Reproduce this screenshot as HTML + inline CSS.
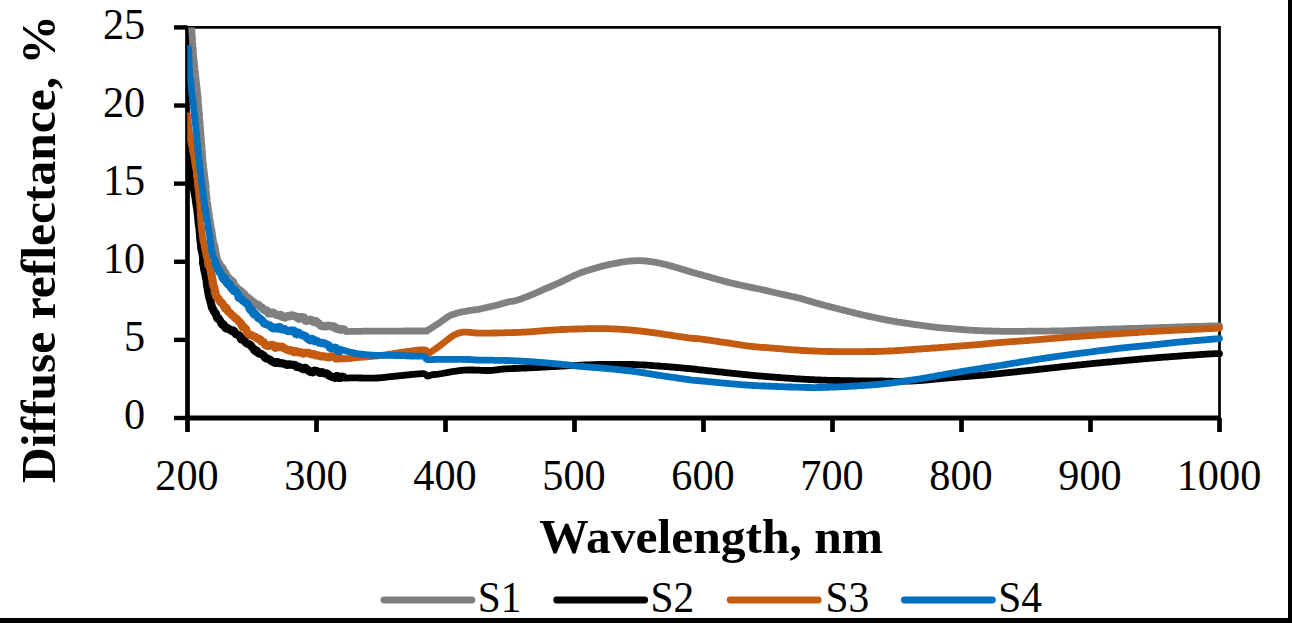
<!DOCTYPE html>
<html><head><meta charset="utf-8"><style>
html,body{margin:0;padding:0;background:#fff;width:1292px;height:623px;overflow:hidden}
svg{display:block}
.t{font-family:"Liberation Serif",serif;fill:#000}
.b{font-family:"Liberation Serif",serif;font-size:49.5px;font-weight:bold;fill:#000}
</style></head><body>
<svg width="1292" height="623" viewBox="0 0 1292 623">
<rect x="0" y="0" width="1292" height="623" fill="#fff"/>
<defs><clipPath id="pc"><rect x="187.3" y="27.4" width="1060" height="400"/></clipPath></defs>
<path d="M187.5,27.4 H1219.5 V418.0" fill="none" stroke="#000" stroke-width="2.7"/>
<line x1="187.5" y1="25.9" x2="187.5" y2="418.0" stroke="#000" stroke-width="4.7"/>
<line x1="185.15" y1="418.0" x2="1219.5" y2="418.0" stroke="#000" stroke-width="4.8"/>
<line x1="174" y1="418.00" x2="187.5" y2="418.00" stroke="#000" stroke-width="4.4"/>
<line x1="174" y1="339.88" x2="187.5" y2="339.88" stroke="#000" stroke-width="4.4"/>
<line x1="174" y1="261.76" x2="187.5" y2="261.76" stroke="#000" stroke-width="4.4"/>
<line x1="174" y1="183.64" x2="187.5" y2="183.64" stroke="#000" stroke-width="4.4"/>
<line x1="174" y1="105.52" x2="187.5" y2="105.52" stroke="#000" stroke-width="4.4"/>
<line x1="174" y1="27.40" x2="187.5" y2="27.40" stroke="#000" stroke-width="4.4"/>
<line x1="187.50" y1="418.0" x2="187.50" y2="432" stroke="#000" stroke-width="4.7"/>
<line x1="316.50" y1="418.0" x2="316.50" y2="432" stroke="#000" stroke-width="4.7"/>
<line x1="445.50" y1="418.0" x2="445.50" y2="432" stroke="#000" stroke-width="4.7"/>
<line x1="574.50" y1="418.0" x2="574.50" y2="432" stroke="#000" stroke-width="4.7"/>
<line x1="703.50" y1="418.0" x2="703.50" y2="432" stroke="#000" stroke-width="4.7"/>
<line x1="832.50" y1="418.0" x2="832.50" y2="432" stroke="#000" stroke-width="4.7"/>
<line x1="961.50" y1="418.0" x2="961.50" y2="432" stroke="#000" stroke-width="4.7"/>
<line x1="1090.50" y1="418.0" x2="1090.50" y2="432" stroke="#000" stroke-width="4.7"/>
<line x1="1219.50" y1="418.0" x2="1219.50" y2="432" stroke="#000" stroke-width="4.7"/>
<g clip-path="url(#pc)" fill="none" stroke-width="6.8" stroke-linejoin="round" stroke-linecap="round">
<polyline stroke="#808080" points="191.6,15.0 191.6,15.4 191.6,15.9 191.5,16.5 191.5,17.4 191.5,19.8 191.5,21.3 191.5,21.0 191.5,22.4 191.5,25.4 191.6,26.6 191.6,26.9 191.7,27.6 191.8,29.7 191.8,31.1 191.9,31.1 192.0,32.0 192.0,34.2 192.1,35.6 192.2,35.9 192.3,37.0 192.4,38.4 192.5,39.7 192.6,41.9 192.7,43.3 192.8,45.7 192.9,47.1 193.0,46.5 193.1,47.6 193.2,49.1 193.3,50.4 193.4,52.7 193.5,54.1 193.6,56.2 193.8,57.6 193.9,57.9 194.0,59.1 194.1,59.9 194.2,61.1 194.4,64.1 194.5,65.5 194.6,64.2 194.8,65.3 194.9,68.7 195.0,70.2 195.1,69.9 195.2,70.9 195.4,71.7 195.5,72.8 195.6,73.9 195.7,75.3 195.9,77.2 196.0,78.5 196.2,81.2 196.3,82.5 196.5,82.1 196.6,83.0 196.7,85.2 196.9,86.6 197.0,87.9 197.2,89.1 197.3,89.7 197.4,90.9 197.6,92.7 197.7,94.1 197.8,94.1 197.9,94.9 198.0,96.0 198.1,97.2 198.2,98.8 198.3,100.0 198.4,102.5 198.5,103.9 198.6,104.5 198.7,105.7 198.8,106.6 198.9,107.8 199.0,109.8 199.1,111.1 199.2,112.0 199.3,113.2 199.4,114.0 199.5,115.1 199.6,117.5 199.7,118.9 199.8,119.9 199.9,121.2 200.0,121.2 200.1,122.3 200.2,124.4 200.3,125.7 200.4,126.8 200.5,128.0 200.5,130.1 200.6,131.4 200.7,132.2 200.8,133.4 200.9,133.4 201.0,134.5 201.1,137.6 201.2,139.1 201.3,138.0 201.4,139.0 201.5,140.9 201.6,142.2 201.7,144.3 201.8,145.6 201.9,145.3 202.0,146.3 202.1,148.4 202.2,149.7 202.2,149.8 202.4,150.9 202.5,153.8 202.6,155.2 202.7,156.7 202.8,157.9 202.9,158.6 203.0,159.8 203.1,161.7 203.2,163.0 203.3,162.8 203.4,163.8 203.6,166.1 203.7,167.5 203.8,168.5 204.0,169.7 204.1,170.9 204.3,172.1 204.4,173.0 204.6,174.2 204.7,176.4 204.9,177.7 205.0,179.2 205.2,180.5 205.3,180.4 205.4,181.5 205.6,183.2 205.7,184.5 205.8,184.1 205.9,185.1 206.1,188.0 206.2,189.5 206.3,190.5 206.4,191.7 206.5,193.8 206.6,195.2 206.7,196.0 206.8,197.1 206.9,196.9 207.0,198.0 207.1,199.5 207.2,200.8 207.4,202.8 207.5,204.2 207.7,203.7 207.8,204.7 208.0,207.0 208.2,208.4 208.3,208.8 208.5,209.9 208.7,210.9 208.9,212.1 209.1,213.2 209.3,214.4 209.5,217.6 209.7,219.0 209.9,218.6 210.1,219.6 210.3,221.1 210.5,222.4 210.7,224.0 210.9,225.2 211.1,227.6 211.3,229.0 211.5,228.2 211.7,229.1 212.0,231.5 212.2,232.9 212.5,234.5 212.8,235.9 213.0,238.2 213.3,239.6 213.5,240.7 213.8,242.0 214.1,243.4 214.3,244.6 214.5,244.3 214.8,245.2 215.0,246.7 215.2,247.8 215.4,248.7 215.6,249.6 215.9,252.9 216.2,254.7 216.5,253.7 216.7,254.8 216.9,255.9 217.1,256.8 217.3,257.8 217.5,258.8 218.0,260.4 218.4,262.2 218.9,263.3 219.5,264.7 220.1,265.9 220.6,266.1 221.4,267.1 222.4,267.8 223.0,269.6 223.7,271.0 224.6,271.9 225.4,273.1 226.3,274.9 227.2,277.2 228.0,277.5 228.8,278.1 229.5,278.9 230.6,280.6 231.5,281.8 232.3,281.1 233.1,281.8 234.0,284.9 234.9,286.2 235.8,286.8 236.8,287.7 237.6,288.8 238.4,289.6 239.3,290.4 240.1,290.3 241.2,291.4 241.9,292.2 242.6,293.1 243.5,293.2 244.4,294.2 245.3,296.7 246.1,297.7 247.0,297.1 248.0,297.8 249.0,298.6 250.0,299.4 251.0,300.5 251.9,301.3 252.8,301.8 253.9,302.5 254.8,303.5 255.8,304.3 257.1,304.3 258.0,304.7 259.0,305.4 260.1,306.6 261.2,307.4 262.4,308.1 263.5,309.6 264.6,310.3 265.7,310.0 267.0,310.5 268.4,313.5 269.7,313.2 270.9,313.5 272.1,312.6 273.2,312.7 274.7,313.6 275.9,314.5 277.1,315.0 278.5,315.4 279.6,314.9 280.8,314.8 282.0,316.7 283.4,317.0 285.0,317.5 286.1,316.4 287.2,316.1 288.4,316.2 289.7,316.3 291.0,315.3 292.4,315.4 293.8,315.7 295.2,316.6 296.6,316.6 297.8,318.3 299.0,318.8 300.2,317.2 301.4,317.3 302.7,317.2 304.0,317.5 305.2,320.5 306.5,321.0 307.8,320.1 309.1,320.4 310.3,319.7 311.5,320.0 312.8,321.5 314.0,322.0 315.2,321.0 316.5,321.3 317.7,323.2 319.0,323.7 320.2,325.4 321.4,325.9 322.7,326.0 323.9,326.3 325.2,326.2 326.5,326.4 327.8,325.5 329.1,325.7 330.4,326.3 331.7,326.6 333.0,326.3 334.3,326.5 335.4,328.3 336.6,328.8 337.6,328.5 339.1,328.7 340.4,329.8 341.7,329.0 342.8,329.4 343.9,329.6 344.8,329.9 345.7,330.7 346.3,331.3 346.4,331.6 349.5,331.4 350.2,331.3 351.0,331.3 351.8,331.3 352.7,331.3 353.7,331.3 354.7,331.3 355.7,331.3 356.8,331.3 358.0,331.3 359.2,331.3 360.4,331.3 361.7,331.3 362.9,331.2 364.3,331.2 365.6,331.2 367.0,331.2 368.4,331.2 369.8,331.2 371.2,331.2 372.7,331.1 374.1,331.1 375.6,331.1 377.1,331.1 378.5,331.1 380.0,331.1 381.1,331.1 382.2,331.1 383.4,331.1 384.6,331.1 385.8,331.1 387.1,331.1 388.4,331.1 389.8,331.1 391.2,331.1 392.5,331.1 393.9,331.1 395.4,331.1 396.8,331.1 398.2,331.1 399.7,331.1 401.1,331.1 402.5,331.1 403.9,331.0 405.3,331.0 406.7,331.0 408.1,331.0 409.4,331.0 410.7,331.0 412.0,331.0 413.3,331.0 414.5,331.0 415.6,331.0 416.8,331.0 417.8,331.0 418.8,331.0 419.8,331.0 420.7,331.0 421.5,331.0 422.3,331.0 423.0,331.0 427.0,331.0 426.0,330.8 427.2,330.4 428.5,329.8 429.3,329.4 430.2,328.8 431.7,327.9 432.5,327.4 433.4,326.8 434.4,326.1 435.4,325.4 436.6,324.7 437.7,323.9 438.9,323.2 440.0,322.4 441.0,321.7 442.0,320.9 443.1,320.2 444.2,319.4 445.3,318.6 446.3,317.8 447.4,317.1 448.5,316.4 449.6,315.8 450.8,315.2 452.0,314.7 453.2,314.3 454.5,313.9 455.7,313.5 456.9,313.1 458.1,312.8 459.3,312.5 460.5,312.2 461.7,311.9 462.9,311.7 464.1,311.5 465.3,311.3 466.5,311.1 467.7,310.9 468.9,310.7 470.1,310.5 471.3,310.3 472.5,310.2 473.7,310.0 474.9,309.9 476.1,309.7 477.3,309.5 478.5,309.3 479.7,309.1 480.9,308.8 482.1,308.5 483.4,308.2 484.6,308.0 485.8,307.7 487.0,307.4 488.2,307.1 489.4,306.8 490.6,306.6 491.8,306.3 493.0,306.0 494.2,305.8 495.4,305.5 496.6,305.2 497.8,304.9 499.0,304.6 500.1,304.3 501.3,303.9 502.4,303.6 503.6,303.2 504.8,302.9 506.1,302.6 507.4,302.2 508.5,301.9 509.6,301.7 510.7,301.5 511.9,301.3 513.0,301.1 514.3,300.9 515.6,300.6 517.0,300.2 518.4,299.8 520.0,299.3 520.9,299.0 521.9,298.6 522.9,298.2 523.9,297.8 525.0,297.4 526.1,297.0 527.2,296.5 528.4,296.1 529.5,295.6 530.7,295.1 531.9,294.6 533.1,294.1 534.2,293.6 535.4,293.1 536.6,292.6 537.7,292.1 538.9,291.6 540.0,291.1 541.1,290.6 542.2,290.2 543.3,289.7 544.4,289.2 545.6,288.7 546.7,288.2 547.8,287.7 548.9,287.3 550.0,286.8 551.1,286.3 552.2,285.8 553.3,285.3 554.4,284.8 555.6,284.3 556.7,283.8 557.8,283.3 558.9,282.8 560.0,282.3 561.1,281.8 562.2,281.3 563.3,280.8 564.4,280.2 565.6,279.7 566.7,279.2 567.8,278.6 568.9,278.1 570.0,277.5 571.1,277.0 572.2,276.5 573.3,276.0 574.4,275.5 575.6,275.0 576.7,274.5 577.8,274.0 578.9,273.5 580.0,273.1 581.2,272.6 582.4,272.2 583.6,271.8 584.8,271.4 586.0,270.9 587.2,270.5 588.5,270.2 589.7,269.8 590.9,269.4 592.1,269.1 593.3,268.7 594.4,268.4 595.6,268.0 596.7,267.7 597.9,267.4 598.9,267.1 600.0,266.8 601.3,266.4 602.6,266.1 603.9,265.8 605.1,265.5 606.3,265.2 607.5,264.9 608.6,264.7 609.7,264.4 610.9,264.2 612.0,264.0 613.2,263.7 614.3,263.5 615.5,263.3 616.7,263.1 617.9,262.9 619.1,262.6 620.3,262.4 621.5,262.2 622.7,262.0 623.9,261.8 625.1,261.7 626.3,261.5 627.5,261.3 628.6,261.2 629.8,261.1 631.0,261.0 632.3,260.9 633.5,260.8 634.8,260.8 636.0,260.7 637.2,260.7 638.5,260.7 639.7,260.7 640.9,260.7 642.2,260.8 643.4,260.8 644.7,260.9 646.0,261.0 647.2,261.1 648.4,261.3 649.6,261.4 650.9,261.6 652.1,261.8 653.4,262.0 654.6,262.2 655.8,262.4 657.1,262.7 658.3,262.9 659.6,263.2 660.8,263.4 662.0,263.7 663.2,264.0 664.4,264.2 665.6,264.5 666.8,264.8 668.0,265.1 669.1,265.5 670.3,265.8 671.5,266.1 672.7,266.4 673.9,266.8 675.0,267.1 676.2,267.5 677.4,267.8 678.6,268.1 679.9,268.5 681.1,268.9 682.4,269.3 683.7,269.7 685.0,270.1 686.3,270.5 687.5,270.9 688.7,271.2 689.9,271.6 691.0,271.9 692.0,272.2 692.9,272.5 694.3,272.9 695.0,273.1 695.5,273.2 696.2,273.4 697.6,273.7 700.0,274.4 700.8,274.6 701.6,274.9 702.5,275.1 703.5,275.4 704.5,275.7 705.6,276.0 706.7,276.3 707.9,276.6 709.1,277.0 710.4,277.3 711.6,277.7 712.9,278.1 714.2,278.4 715.6,278.8 716.9,279.2 718.3,279.6 719.6,280.0 721.0,280.3 722.3,280.7 723.6,281.1 725.0,281.4 726.3,281.7 727.5,282.1 728.8,282.4 730.0,282.7 731.2,283.0 732.4,283.3 733.7,283.6 734.9,283.9 736.2,284.1 737.4,284.4 738.7,284.7 739.9,285.0 741.2,285.3 742.5,285.5 743.7,285.8 745.0,286.1 746.2,286.3 747.5,286.6 748.7,286.8 749.9,287.1 751.1,287.3 752.3,287.6 753.5,287.8 754.6,288.1 755.8,288.3 756.9,288.5 757.9,288.7 759.0,289.0 760.0,289.2 761.4,289.5 762.8,289.8 764.1,290.1 765.4,290.4 766.7,290.7 767.9,291.0 769.0,291.2 770.2,291.5 771.3,291.8 772.4,292.0 773.4,292.3 774.5,292.5 775.6,292.8 776.7,293.0 777.8,293.3 778.9,293.5 780.0,293.8 781.3,294.1 782.6,294.4 783.8,294.6 785.1,294.9 786.3,295.2 787.5,295.5 788.8,295.7 790.0,296.0 791.2,296.3 792.5,296.5 793.7,296.8 794.9,297.1 796.1,297.4 797.4,297.7 798.6,298.0 799.8,298.3 800.9,298.6 802.1,298.9 803.2,299.3 804.4,299.6 805.5,299.9 806.7,300.3 807.9,300.6 809.0,300.9 810.2,301.3 811.3,301.6 812.5,302.0 813.6,302.3 814.8,302.6 815.9,303.0 817.1,303.3 818.3,303.6 819.4,303.9 820.6,304.2 821.7,304.6 822.9,304.9 824.1,305.2 825.2,305.5 826.4,305.8 827.6,306.1 828.7,306.4 829.9,306.7 831.0,307.0 832.2,307.3 833.4,307.6 834.5,307.9 835.7,308.2 836.9,308.5 838.2,308.8 839.4,309.2 840.7,309.5 841.9,309.8 843.1,310.1 844.4,310.4 845.6,310.7 846.9,311.1 848.1,311.4 849.3,311.7 850.6,312.0 851.8,312.3 853.1,312.6 854.3,312.9 855.5,313.2 856.8,313.5 858.0,313.8 859.3,314.1 860.5,314.4 861.7,314.7 863.0,315.0 864.2,315.3 865.5,315.5 866.7,315.8 867.9,316.1 869.2,316.4 870.4,316.7 871.7,316.9 872.9,317.2 874.2,317.5 875.4,317.7 876.8,318.0 878.1,318.3 879.4,318.6 880.8,318.8 882.1,319.1 883.4,319.4 884.7,319.6 886.0,319.9 887.2,320.1 888.3,320.3 889.4,320.5 890.5,320.7 891.4,320.9 893.1,321.2 894.3,321.4 895.3,321.6 896.1,321.7 897.1,321.9 898.3,322.1 900.0,322.3 900.9,322.4 902.0,322.6 903.1,322.8 904.2,322.9 905.5,323.1 906.7,323.3 908.0,323.5 909.3,323.7 910.7,323.9 912.0,324.1 913.4,324.3 914.7,324.5 916.0,324.6 917.3,324.8 918.6,325.0 919.8,325.2 921.1,325.3 922.3,325.5 923.5,325.7 924.8,325.9 926.0,326.0 927.2,326.2 928.5,326.4 929.7,326.5 930.9,326.7 932.2,326.8 933.4,327.0 934.6,327.1 935.9,327.3 937.1,327.4 938.3,327.5 939.6,327.7 940.8,327.8 942.1,327.9 943.3,328.0 944.5,328.1 945.8,328.2 947.0,328.3 948.3,328.4 949.5,328.5 950.7,328.6 952.0,328.7 953.2,328.8 954.5,328.9 955.7,329.0 956.9,329.1 958.2,329.2 959.4,329.3 960.7,329.4 961.9,329.5 963.1,329.6 964.4,329.7 965.6,329.8 966.9,329.9 968.1,330.0 969.3,330.1 970.6,330.2 971.8,330.2 973.1,330.3 974.3,330.4 975.5,330.5 976.8,330.5 978.0,330.6 979.3,330.6 980.5,330.7 981.7,330.7 983.0,330.8 984.2,330.8 985.5,330.9 986.7,330.9 987.9,331.0 989.2,331.0 990.4,331.0 991.7,331.1 992.9,331.1 994.1,331.1 995.4,331.2 996.6,331.2 997.8,331.2 999.1,331.2 1000.3,331.3 1001.5,331.3 1002.8,331.3 1004.0,331.3 1005.2,331.4 1006.5,331.4 1007.7,331.4 1008.9,331.4 1010.2,331.4 1011.4,331.4 1012.6,331.4 1013.8,331.4 1014.9,331.4 1016.1,331.4 1017.2,331.4 1018.3,331.4 1019.4,331.3 1020.6,331.3 1021.7,331.3 1023.0,331.3 1024.2,331.3 1025.5,331.3 1026.9,331.2 1028.4,331.2 1030.0,331.2 1031.0,331.2 1032.0,331.2 1033.1,331.2 1034.2,331.2 1035.3,331.2 1036.4,331.2 1037.6,331.1 1038.8,331.1 1040.0,331.1 1041.2,331.1 1042.4,331.1 1043.7,331.1 1044.9,331.1 1046.2,331.1 1047.5,331.1 1048.7,331.1 1050.0,331.1 1051.3,331.0 1052.6,331.0 1053.8,331.0 1055.1,331.0 1056.3,331.0 1057.6,331.0 1058.8,330.9 1060.0,330.9 1061.2,330.9 1062.4,330.8 1063.6,330.8 1064.8,330.8 1066.0,330.7 1067.2,330.7 1068.4,330.6 1069.6,330.6 1070.8,330.6 1072.0,330.5 1073.2,330.5 1074.4,330.4 1075.6,330.4 1076.8,330.3 1078.0,330.3 1079.2,330.2 1080.4,330.2 1081.6,330.1 1082.8,330.1 1084.0,330.0 1085.2,330.0 1086.4,329.9 1087.6,329.9 1088.8,329.8 1090.0,329.8 1091.2,329.8 1092.4,329.7 1093.6,329.7 1094.8,329.6 1096.0,329.6 1097.2,329.6 1098.4,329.5 1099.6,329.5 1100.8,329.4 1102.0,329.4 1103.2,329.3 1104.4,329.3 1105.6,329.3 1106.8,329.2 1108.0,329.2 1109.2,329.1 1110.4,329.1 1111.6,329.1 1112.8,329.0 1114.0,329.0 1115.2,329.0 1116.4,328.9 1117.6,328.9 1118.8,328.8 1120.0,328.8 1121.2,328.8 1122.4,328.7 1123.6,328.7 1124.8,328.7 1126.0,328.6 1127.2,328.6 1128.4,328.5 1129.6,328.5 1130.8,328.5 1132.0,328.4 1133.2,328.4 1134.4,328.4 1135.6,328.3 1136.8,328.3 1138.0,328.3 1139.2,328.2 1140.4,328.2 1141.6,328.2 1142.8,328.1 1144.0,328.1 1145.2,328.0 1146.4,328.0 1147.6,328.0 1148.8,327.9 1150.0,327.9 1151.2,327.9 1152.4,327.8 1153.6,327.8 1154.8,327.7 1156.0,327.7 1157.2,327.7 1158.4,327.6 1159.6,327.6 1160.8,327.5 1162.0,327.5 1163.2,327.5 1164.4,327.4 1165.6,327.4 1166.8,327.3 1168.0,327.3 1169.2,327.3 1170.4,327.2 1171.6,327.2 1172.8,327.1 1174.0,327.1 1175.2,327.1 1176.4,327.0 1177.6,327.0 1178.8,326.9 1180.0,326.9 1181.2,326.9 1182.5,326.8 1183.7,326.8 1185.0,326.7 1186.3,326.7 1187.6,326.7 1189.0,326.6 1190.3,326.6 1191.7,326.5 1193.0,326.5 1194.3,326.5 1195.6,326.4 1196.9,326.4 1198.2,326.3 1199.5,326.3 1200.7,326.3 1201.9,326.2 1203.1,326.2 1204.2,326.2 1205.3,326.1 1206.4,326.1 1207.4,326.1 1208.3,326.0 1209.2,326.0 1210.0,326.0 1212.5,325.9 1214.5,325.9 1216.0,325.9 1217.2,325.8 1218.1,325.8 1218.8,325.8 1219.5,325.8"/>
<polyline stroke="#808080" stroke-width="8.2" points="218.4,262.2 218.9,263.3 219.5,264.7 220.1,265.9 220.6,266.1 221.4,267.1 222.4,267.8 223.0,269.6 223.7,271.0 224.6,271.9 225.4,273.1 226.3,274.9 227.2,277.2 228.0,277.5 228.8,278.1 229.5,278.9 230.6,280.6 231.5,281.8 232.3,281.1 233.1,281.8 234.0,284.9 234.9,286.2 235.8,286.8 236.8,287.7 237.6,288.8 238.4,289.6 239.3,290.4 240.1,290.3 241.2,291.4 241.9,292.2 242.6,293.1 243.5,293.2 244.4,294.2 245.3,296.7 246.1,297.7 247.0,297.1 248.0,297.8 249.0,298.6 250.0,299.4 251.0,300.5 251.9,301.3 252.8,301.8 253.9,302.5 254.8,303.5 255.8,304.3 257.1,304.3 258.0,304.7 259.0,305.4 260.1,306.6 261.2,307.4 262.4,308.1 263.5,309.6 264.6,310.3 265.7,310.0 267.0,310.5 268.4,313.5 269.7,313.2 270.9,313.5 272.1,312.6 273.2,312.7 274.7,313.6 275.9,314.5 277.1,315.0 278.5,315.4 279.6,314.9 280.8,314.8 282.0,316.7 283.4,317.0 285.0,317.5 286.1,316.4 287.2,316.1 288.4,316.2 289.7,316.3 291.0,315.3 292.4,315.4 293.8,315.7 295.2,316.6 296.6,316.6 297.8,318.3 299.0,318.8 300.2,317.2 301.4,317.3 302.7,317.2 304.0,317.5 305.2,320.5 306.5,321.0 307.8,320.1 309.1,320.4 310.3,319.7 311.5,320.0 312.8,321.5 314.0,322.0 315.2,321.0 316.5,321.3 317.7,323.2 319.0,323.7 320.2,325.4 321.4,325.9 322.7,326.0 323.9,326.3 325.2,326.2 326.5,326.4 327.8,325.5 329.1,325.7 330.4,326.3 331.7,326.6 333.0,326.3 334.3,326.5 335.4,328.3 336.6,328.8 337.6,328.5 339.1,328.7 340.4,329.8 341.7,329.0 342.8,329.4 343.9,329.6"/>
<polyline stroke="#000000" points="187.6,152.5 187.7,153.8 187.8,155.3 187.9,156.6 188.0,158.0 188.1,159.2 188.3,159.2 188.4,161.6 188.6,162.6 188.7,162.9 188.9,163.8 189.0,164.9 189.1,166.0 189.3,167.7 189.5,169.0 189.6,170.2 189.8,171.5 190.1,174.1 190.3,175.6 190.5,177.2 190.7,178.5 190.9,178.4 191.1,179.3 191.4,181.8 191.6,183.2 191.9,184.6 192.1,185.9 192.4,187.1 192.6,188.4 192.9,188.0 193.1,189.1 193.4,189.9 193.6,191.0 193.8,192.2 194.1,193.5 194.3,194.7 194.5,195.9 194.8,197.1 195.0,198.3 195.2,200.5 195.4,201.8 195.7,203.8 195.9,205.1 196.1,206.2 196.3,207.6 196.5,207.9 196.6,209.4 196.8,210.7 196.9,212.2 197.1,213.4 197.2,212.8 197.3,213.7 197.5,216.5 197.6,218.0 197.7,219.9 197.9,221.3 198.0,222.2 198.1,223.5 198.3,224.7 198.4,226.0 198.5,226.5 198.7,227.7 198.8,228.1 198.9,229.3 199.1,232.2 199.2,233.6 199.3,233.6 199.4,234.7 199.5,237.2 199.6,238.6 199.8,240.3 199.9,241.6 200.0,241.3 200.1,242.4 200.3,243.7 200.4,244.9 200.5,247.5 200.7,248.9 200.8,249.6 201.0,250.7 201.2,250.4 201.4,251.5 201.6,252.6 201.8,253.8 202.0,255.1 202.2,256.3 202.5,259.5 202.7,261.0 202.9,261.9 203.1,263.1 203.4,262.5 203.6,263.5 203.8,266.4 204.1,267.9 204.3,269.5 204.5,270.7 204.7,271.1 204.9,272.2 205.1,272.7 205.4,273.8 205.6,275.7 205.8,277.0 206.0,277.1 206.2,278.3 206.5,279.2 206.7,280.4 206.9,284.1 207.1,285.7 207.3,286.0 207.4,286.9 207.6,287.7 207.8,288.6 208.1,291.4 208.3,291.3 208.6,293.9 208.8,295.2 209.0,296.2 209.2,297.3 209.4,296.9 209.6,297.6 209.9,298.8 210.2,300.1 210.5,301.5 210.8,302.7 211.1,303.8 211.5,305.0 211.8,307.1 212.3,308.4 212.8,308.6 213.3,309.7 213.9,311.2 214.6,312.3 215.2,312.7 215.9,313.7 216.7,316.9 217.4,318.2 218.1,317.7 218.8,318.5 219.7,320.0 220.5,321.5 221.4,323.5 222.3,324.6 223.2,324.2 224.1,325.1 225.0,327.3 226.0,328.3 227.0,327.9 228.0,328.4 229.0,329.2 230.1,329.8 231.1,330.4 232.0,331.1 233.1,330.4 234.1,331.2 235.1,333.2 236.1,334.1 237.0,334.2 237.8,334.7 238.8,335.1 239.5,335.7 241.0,339.2 241.7,338.5 242.6,338.5 243.5,340.0 244.6,340.9 245.7,342.5 246.7,343.3 247.8,343.7 248.9,344.5 249.8,344.6 250.7,345.3 251.8,346.8 252.7,347.9 253.6,348.8 254.4,350.3 255.3,351.2 256.1,350.3 257.1,350.8 258.1,352.9 259.2,353.7 260.4,353.6 261.5,354.2 262.7,355.0 263.8,355.7 265.0,357.7 266.1,358.5 267.2,358.4 268.3,358.9 269.4,359.6 270.6,360.2 271.8,361.3 273.2,361.8 274.2,362.5 275.3,362.9 276.5,362.0 277.7,362.1 278.9,362.9 280.1,363.2 281.4,363.2 282.6,363.4 283.8,363.7 285.0,363.9 286.3,364.7 287.6,364.9 288.8,364.3 290.1,364.4 291.3,364.7 292.6,364.9 293.9,364.9 295.2,365.1 296.6,366.8 297.7,366.6 298.8,366.8 299.9,367.6 301.0,368.1 302.2,368.7 303.3,369.2 304.5,367.8 305.7,368.1 306.8,369.4 308.0,369.9 309.2,371.3 310.3,371.8 311.5,371.9 312.8,372.3 314.0,370.7 315.2,370.8 316.5,371.1 317.7,371.4 319.0,372.6 320.2,372.9 321.4,372.2 322.7,372.4 323.9,373.2 325.2,373.5 326.4,373.4 327.7,373.7 329.0,375.7 330.3,376.1 331.6,376.7 332.9,377.0 334.1,377.6 335.3,377.9 336.5,376.2 337.6,376.1 339.1,378.0 340.5,377.9 341.8,376.7 343.1,376.9 344.4,378.2 345.6,378.2 346.8,378.2 348.0,378.1 349.5,377.8 350.8,377.9 352.0,377.9 353.3,377.9 354.7,377.9 356.2,377.9 357.3,377.9 358.5,377.9 359.7,378.0 361.0,378.0 362.3,378.0 363.6,378.1 364.9,378.1 366.2,378.1 367.5,378.1 368.7,378.1 370.0,378.1 371.2,378.1 372.5,378.1 373.7,378.1 375.0,378.1 376.2,378.0 377.5,378.0 378.7,377.9 380.0,377.8 381.2,377.7 382.5,377.6 383.7,377.4 385.0,377.3 386.2,377.1 387.5,377.0 388.7,376.8 390.0,376.7 391.2,376.6 392.4,376.5 393.6,376.3 394.8,376.2 396.0,376.1 397.3,376.0 398.5,375.9 399.8,375.7 401.2,375.6 402.4,375.5 403.6,375.4 404.9,375.2 406.2,375.1 407.5,374.9 408.9,374.8 410.2,374.6 411.5,374.5 412.7,374.4 413.9,374.3 415.0,374.2 416.6,374.1 418.2,373.9 419.7,373.8 421.1,373.7 422.4,373.7 423.5,373.7 424.5,373.8 426.2,375.0 427.3,376.0 428.3,375.9 429.4,375.6 430.6,375.2 432.0,374.8 433.1,374.6 434.2,374.5 435.5,374.4 437.0,374.3 438.9,374.0 439.8,373.8 440.9,373.7 442.0,373.5 443.2,373.3 444.4,373.0 445.7,372.8 447.0,372.6 448.3,372.3 449.6,372.1 450.9,371.9 452.2,371.7 453.4,371.5 454.6,371.3 455.7,371.2 456.8,371.0 457.9,370.9 459.0,370.7 460.1,370.6 461.3,370.4 462.4,370.3 463.7,370.2 464.9,370.1 466.3,370.1 467.8,370.0 468.9,370.0 470.0,370.0 471.2,370.0 472.4,370.0 473.7,370.0 475.0,370.1 476.3,370.1 477.6,370.2 479.0,370.2 480.3,370.3 481.7,370.4 483.0,370.4 484.3,370.5 485.5,370.5 486.7,370.5 487.9,370.5 489.0,370.5 490.0,370.5 491.5,370.4 492.8,370.3 494.0,370.2 495.0,370.1 496.0,369.9 497.0,369.8 498.0,369.6 499.1,369.4 500.3,369.3 501.7,369.1 503.2,369.0 504.2,368.9 505.2,368.9 506.3,368.8 507.4,368.8 508.6,368.7 509.8,368.7 511.0,368.6 512.3,368.6 513.5,368.5 514.8,368.5 516.1,368.4 517.4,368.4 518.7,368.3 520.0,368.3 521.3,368.2 522.6,368.2 523.9,368.1 525.2,368.1 526.4,368.0 527.6,367.9 528.8,367.9 530.0,367.8 531.2,367.8 532.3,367.7 533.5,367.6 534.7,367.6 535.8,367.5 537.0,367.5 538.2,367.4 539.4,367.3 540.6,367.3 541.8,367.2 543.1,367.1 544.3,367.1 545.6,367.0 547.0,366.9 548.3,366.9 549.7,366.8 550.8,366.7 551.9,366.7 553.0,366.6 554.2,366.6 555.4,366.5 556.5,366.4 557.7,366.4 559.0,366.3 560.2,366.2 561.4,366.2 562.7,366.1 563.9,366.0 565.2,365.9 566.5,365.9 567.7,365.8 569.0,365.7 570.2,365.7 571.5,365.6 572.7,365.5 574.0,365.5 575.2,365.4 576.4,365.4 577.6,365.3 578.8,365.3 580.0,365.2 581.3,365.1 582.5,365.1 583.8,365.0 585.0,365.0 586.2,364.9 587.5,364.9 588.7,364.8 589.9,364.8 591.1,364.7 592.3,364.7 593.5,364.7 594.7,364.6 595.9,364.6 597.1,364.5 598.3,364.5 599.5,364.5 600.7,364.4 601.9,364.4 603.1,364.4 604.3,364.4 605.5,364.3 606.7,364.3 607.9,364.3 609.1,364.3 610.3,364.3 611.5,364.3 612.7,364.3 613.9,364.3 615.2,364.3 616.4,364.3 617.6,364.3 618.8,364.3 620.0,364.3 621.2,364.3 622.4,364.3 623.6,364.3 624.8,364.3 626.0,364.3 627.2,364.4 628.4,364.4 629.7,364.4 630.9,364.4 632.1,364.5 633.3,364.5 634.5,364.6 635.7,364.6 636.9,364.6 638.1,364.7 639.3,364.8 640.5,364.8 641.8,364.9 643.0,364.9 644.2,365.0 645.4,365.1 646.6,365.2 647.8,365.2 649.0,365.3 650.3,365.4 651.5,365.5 652.7,365.6 653.9,365.7 655.1,365.8 656.3,365.8 657.5,365.9 658.8,366.0 660.0,366.1 661.2,366.2 662.4,366.3 663.6,366.4 664.8,366.5 666.1,366.6 667.4,366.7 668.7,366.8 670.0,366.9 671.3,367.0 672.7,367.1 674.0,367.2 675.4,367.4 676.7,367.5 678.0,367.6 679.4,367.7 680.7,367.8 681.9,367.9 683.2,368.0 684.4,368.2 685.5,368.3 686.6,368.4 687.7,368.5 688.7,368.6 689.7,368.6 690.6,368.7 691.4,368.8 693.5,369.0 694.8,369.1 695.6,369.2 696.2,369.3 696.9,369.4 698.1,369.6 700.0,369.8 700.9,369.9 701.8,370.0 702.9,370.1 704.0,370.2 705.1,370.4 706.3,370.5 707.5,370.6 708.8,370.8 710.1,370.9 711.5,371.0 712.8,371.2 714.2,371.3 715.6,371.5 717.0,371.6 718.4,371.8 719.7,371.9 721.1,372.1 722.4,372.2 723.7,372.4 725.0,372.5 726.2,372.6 727.5,372.8 728.8,372.9 730.0,373.0 731.2,373.2 732.5,373.3 733.8,373.4 735.0,373.6 736.3,373.7 737.5,373.8 738.8,374.0 740.0,374.1 741.2,374.2 742.5,374.4 743.8,374.5 745.0,374.6 746.2,374.7 747.5,374.9 748.8,375.0 750.0,375.1 751.2,375.2 752.5,375.3 753.7,375.4 755.0,375.6 756.2,375.7 757.5,375.8 758.8,375.9 760.0,376.0 761.3,376.1 762.5,376.2 763.8,376.3 765.0,376.4 766.2,376.5 767.5,376.6 768.8,376.7 770.0,376.8 771.2,376.9 772.5,377.0 773.8,377.1 775.0,377.2 776.2,377.3 777.5,377.4 778.8,377.5 780.0,377.6 781.2,377.7 782.5,377.8 783.8,377.9 785.0,378.0 786.3,378.1 787.5,378.2 788.8,378.2 790.0,378.3 791.2,378.4 792.5,378.5 793.8,378.6 795.0,378.7 796.2,378.8 797.5,378.8 798.8,378.9 800.0,379.0 801.2,379.1 802.5,379.1 803.8,379.2 805.0,379.3 806.2,379.4 807.5,379.4 808.8,379.5 810.0,379.6 811.3,379.6 812.5,379.7 813.8,379.7 815.0,379.8 816.2,379.9 817.5,379.9 818.8,380.0 820.0,380.0 821.2,380.1 822.5,380.1 823.8,380.2 825.0,380.2 826.2,380.2 827.5,380.3 828.7,380.3 829.9,380.3 831.1,380.4 832.3,380.4 833.6,380.4 834.8,380.5 836.0,380.5 837.2,380.5 838.4,380.5 839.6,380.5 840.9,380.6 842.1,380.6 843.4,380.6 844.7,380.6 846.0,380.6 847.3,380.7 848.6,380.7 850.0,380.7 851.1,380.7 852.3,380.7 853.4,380.7 854.6,380.8 855.8,380.8 857.1,380.8 858.3,380.8 859.6,380.8 860.8,380.8 862.1,380.8 863.4,380.8 864.7,380.9 865.9,380.9 867.2,380.9 868.5,380.9 869.7,380.9 871.0,380.9 872.2,380.9 873.4,380.9 874.6,380.9 875.7,381.0 876.8,381.0 877.9,381.0 879.0,381.0 880.0,381.0 881.5,381.0 883.0,381.0 884.4,381.1 885.7,381.1 887.0,381.1 888.2,381.2 889.4,381.2 890.6,381.2 891.8,381.2 892.9,381.3 894.1,381.3 895.2,381.3 896.4,381.3 897.6,381.3 898.8,381.3 900.0,381.3 901.2,381.3 902.5,381.3 903.7,381.2 904.9,381.2 906.1,381.2 907.3,381.1 908.5,381.1 909.8,381.1 911.0,381.0 912.2,381.0 913.5,380.9 914.7,380.8 916.0,380.8 917.3,380.7 918.6,380.6 920.0,380.5 921.1,380.4 922.2,380.3 923.3,380.3 924.4,380.2 925.4,380.1 926.5,380.0 927.6,379.9 928.7,379.8 929.9,379.6 931.0,379.5 932.2,379.4 933.3,379.3 934.6,379.2 935.8,379.1 937.1,378.9 938.4,378.8 939.7,378.7 941.1,378.6 942.5,378.4 944.0,378.3 945.0,378.2 946.1,378.1 947.2,378.0 948.3,377.9 949.5,377.8 950.7,377.7 951.9,377.7 953.2,377.6 954.4,377.4 955.7,377.3 957.0,377.2 958.3,377.1 959.6,377.0 960.9,376.9 962.2,376.8 963.6,376.7 964.9,376.6 966.2,376.5 967.5,376.4 968.7,376.3 970.0,376.2 971.2,376.1 972.4,376.0 973.6,375.9 974.8,375.8 975.9,375.7 977.0,375.7 978.0,375.6 979.0,375.5 980.0,375.4 981.7,375.3 983.2,375.1 984.6,375.0 985.9,374.9 987.1,374.8 988.2,374.7 989.3,374.6 990.4,374.5 991.4,374.4 992.5,374.3 993.5,374.2 994.7,374.0 995.9,373.9 997.1,373.8 998.5,373.7 1000.0,373.5 1001.0,373.4 1002.1,373.3 1003.1,373.2 1004.2,373.1 1005.4,372.9 1006.5,372.8 1007.7,372.7 1008.9,372.6 1010.1,372.4 1011.3,372.3 1012.5,372.2 1013.8,372.1 1015.0,371.9 1016.3,371.8 1017.5,371.6 1018.8,371.5 1020.1,371.4 1021.3,371.2 1022.6,371.1 1023.8,371.0 1025.1,370.8 1026.3,370.7 1027.6,370.6 1028.8,370.4 1030.0,370.3 1031.2,370.2 1032.4,370.0 1033.6,369.9 1034.8,369.8 1036.0,369.6 1037.2,369.5 1038.4,369.4 1039.6,369.2 1040.8,369.1 1042.0,369.0 1043.2,368.8 1044.4,368.7 1045.6,368.6 1046.8,368.5 1048.0,368.3 1049.2,368.2 1050.4,368.1 1051.6,367.9 1052.8,367.8 1054.0,367.7 1055.2,367.5 1056.4,367.4 1057.6,367.3 1058.8,367.1 1060.0,367.0 1061.2,366.9 1062.4,366.7 1063.6,366.6 1064.8,366.5 1066.0,366.3 1067.2,366.2 1068.4,366.1 1069.6,366.0 1070.8,365.8 1072.0,365.7 1073.2,365.6 1074.4,365.4 1075.6,365.3 1076.8,365.2 1078.0,365.0 1079.2,364.9 1080.4,364.8 1081.6,364.7 1082.8,364.5 1084.0,364.4 1085.2,364.3 1086.4,364.2 1087.6,364.0 1088.8,363.9 1090.0,363.8 1091.2,363.7 1092.4,363.6 1093.6,363.4 1094.8,363.3 1096.0,363.2 1097.2,363.1 1098.4,363.0 1099.6,362.9 1100.8,362.8 1102.0,362.6 1103.2,362.5 1104.4,362.4 1105.6,362.3 1106.8,362.2 1108.0,362.1 1109.2,362.0 1110.4,361.9 1111.6,361.8 1112.8,361.7 1114.0,361.5 1115.2,361.4 1116.4,361.3 1117.6,361.2 1118.8,361.1 1120.0,361.0 1121.2,360.9 1122.4,360.8 1123.6,360.7 1124.8,360.6 1126.0,360.4 1127.2,360.3 1128.4,360.2 1129.6,360.1 1130.8,360.0 1132.0,359.9 1133.2,359.8 1134.4,359.7 1135.6,359.6 1136.8,359.5 1138.0,359.3 1139.2,359.2 1140.4,359.1 1141.6,359.0 1142.8,358.9 1144.0,358.8 1145.2,358.7 1146.4,358.6 1147.6,358.5 1148.8,358.4 1150.0,358.3 1151.2,358.2 1152.4,358.1 1153.6,358.0 1154.8,357.9 1156.0,357.8 1157.2,357.7 1158.4,357.6 1159.6,357.5 1160.8,357.4 1162.0,357.3 1163.2,357.2 1164.4,357.2 1165.6,357.1 1166.8,357.0 1168.0,356.9 1169.2,356.8 1170.4,356.7 1171.6,356.6 1172.8,356.5 1174.0,356.4 1175.2,356.4 1176.4,356.3 1177.6,356.2 1178.8,356.1 1180.0,356.0 1181.2,355.9 1182.5,355.8 1183.7,355.7 1185.0,355.6 1186.3,355.5 1187.6,355.4 1189.0,355.3 1190.3,355.2 1191.7,355.2 1193.0,355.1 1194.3,355.0 1195.6,354.9 1196.9,354.8 1198.2,354.7 1199.5,354.6 1200.7,354.5 1201.9,354.4 1203.1,354.3 1204.2,354.3 1205.3,354.2 1206.4,354.1 1207.4,354.1 1208.3,354.0 1209.2,353.9 1210.0,353.9 1212.5,353.8 1214.5,353.7 1216.0,353.7 1217.2,353.7 1218.1,353.7 1218.8,353.7 1219.5,353.7"/>
<polyline stroke="#000000" stroke-width="8.2" points="203.1,263.1 203.4,262.5 203.6,263.5 203.8,266.4 204.1,267.9 204.3,269.5 204.5,270.7 204.7,271.1 204.9,272.2 205.1,272.7 205.4,273.8 205.6,275.7 205.8,277.0 206.0,277.1 206.2,278.3 206.5,279.2 206.7,280.4 206.9,284.1 207.1,285.7 207.3,286.0 207.4,286.9 207.6,287.7 207.8,288.6 208.1,291.4 208.3,291.3 208.6,293.9 208.8,295.2 209.0,296.2 209.2,297.3 209.4,296.9 209.6,297.6 209.9,298.8 210.2,300.1 210.5,301.5 210.8,302.7 211.1,303.8 211.5,305.0 211.8,307.1 212.3,308.4 212.8,308.6 213.3,309.7 213.9,311.2 214.6,312.3 215.2,312.7 215.9,313.7 216.7,316.9 217.4,318.2 218.1,317.7 218.8,318.5 219.7,320.0 220.5,321.5 221.4,323.5 222.3,324.6 223.2,324.2 224.1,325.1 225.0,327.3 226.0,328.3 227.0,327.9 228.0,328.4 229.0,329.2 230.1,329.8 231.1,330.4 232.0,331.1 233.1,330.4 234.1,331.2 235.1,333.2 236.1,334.1 237.0,334.2 237.8,334.7 238.8,335.1 239.5,335.7 241.0,339.2 241.7,338.5 242.6,338.5 243.5,340.0 244.6,340.9 245.7,342.5 246.7,343.3 247.8,343.7 248.9,344.5 249.8,344.6 250.7,345.3 251.8,346.8 252.7,347.9 253.6,348.8 254.4,350.3 255.3,351.2 256.1,350.3 257.1,350.8 258.1,352.9 259.2,353.7 260.4,353.6 261.5,354.2 262.7,355.0 263.8,355.7 265.0,357.7 266.1,358.5 267.2,358.4 268.3,358.9 269.4,359.6 270.6,360.2 271.8,361.3 273.2,361.8 274.2,362.5 275.3,362.9 276.5,362.0 277.7,362.1 278.9,362.9 280.1,363.2 281.4,363.2 282.6,363.4 283.8,363.7 285.0,363.9 286.3,364.7 287.6,364.9 288.8,364.3 290.1,364.4 291.3,364.7 292.6,364.9 293.9,364.9 295.2,365.1 296.6,366.8 297.7,366.6 298.8,366.8 299.9,367.6 301.0,368.1 302.2,368.7 303.3,369.2 304.5,367.8 305.7,368.1 306.8,369.4 308.0,369.9 309.2,371.3 310.3,371.8 311.5,371.9 312.8,372.3 314.0,370.7 315.2,370.8 316.5,371.1 317.7,371.4 319.0,372.6 320.2,372.9 321.4,372.2 322.7,372.4 323.9,373.2 325.2,373.5 326.4,373.4 327.7,373.7 329.0,375.7 330.3,376.1 331.6,376.7 332.9,377.0 334.1,377.6 335.3,377.9 336.5,376.2 337.6,376.1 339.1,378.0 340.5,377.9 341.8,376.7 343.1,376.9"/>
<polyline stroke="#C55A11" points="188.0,116.0 188.0,116.6 188.1,117.4 188.2,118.7 188.3,120.0 188.4,122.9 188.5,124.3 188.6,125.3 188.7,124.7 188.8,126.8 188.9,127.9 189.0,129.1 189.1,130.2 189.2,130.8 189.3,131.7 189.4,132.5 189.6,133.6 189.8,135.3 190.0,136.8 190.3,139.7 190.5,139.2 190.6,139.5 190.9,141.8 191.1,143.2 191.3,144.1 191.5,145.2 191.8,145.3 192.1,146.4 192.3,148.6 192.6,149.9 192.8,152.1 193.1,153.4 193.4,154.4 193.6,155.7 193.9,155.7 194.1,156.9 194.4,160.6 194.6,162.1 194.8,162.8 195.0,163.9 195.2,165.7 195.4,167.0 195.6,165.9 195.8,167.0 195.9,168.6 196.1,169.9 196.2,170.6 196.4,171.7 196.5,174.8 196.7,176.3 196.8,176.2 196.9,177.2 197.1,178.1 197.2,179.2 197.3,181.2 197.5,182.5 197.6,185.1 197.7,186.5 197.9,187.4 198.0,188.6 198.2,188.4 198.3,189.4 198.4,190.3 198.6,191.4 198.7,194.7 198.8,196.2 198.9,196.5 199.1,197.6 199.2,199.2 199.3,200.5 199.4,200.1 199.6,201.2 199.7,202.4 199.8,203.7 199.9,206.3 200.0,207.9 200.1,208.4 200.1,209.4 200.2,209.7 200.3,210.8 200.4,214.3 200.4,215.8 200.5,216.3 200.6,217.4 200.7,219.1 200.7,220.4 200.8,219.7 200.9,220.7 201.0,223.9 201.1,225.4 201.2,224.6 201.3,225.4 201.4,228.5 201.5,230.1 201.7,230.2 201.8,231.5 202.0,232.6 202.2,233.9 202.4,235.9 202.6,237.3 202.8,239.7 203.0,241.0 203.2,240.5 203.4,241.6 203.7,242.5 203.9,243.6 204.1,245.8 204.3,247.1 204.5,247.5 204.6,248.3 204.8,249.0 205.1,250.6 205.4,252.2 205.7,253.1 205.9,254.2 206.1,255.5 206.4,256.6 206.7,257.8 207.0,259.0 207.4,260.2 207.8,261.4 208.3,263.9 208.7,265.2 209.2,265.1 209.6,266.2 210.1,268.0 210.4,269.3 210.7,269.7 210.9,270.7 211.1,272.4 211.3,273.6 211.4,274.0 211.6,275.1 211.8,276.9 212.0,278.2 212.3,278.7 212.5,279.9 212.8,283.1 213.1,284.5 213.4,285.2 213.7,286.4 214.0,286.6 214.3,287.6 214.7,289.9 215.0,292.7 215.3,291.6 215.7,294.9 216.0,296.2 216.4,296.3 217.1,297.3 217.9,298.2 219.0,299.5 219.7,301.1 220.5,302.3 221.3,302.1 222.2,303.2 223.2,304.7 224.1,306.4 225.0,308.3 225.9,307.5 226.8,308.5 227.7,310.9 228.6,311.9 229.6,312.6 230.5,313.6 231.4,314.4 232.2,315.3 233.1,315.7 233.9,316.7 234.8,317.5 235.6,318.5 236.4,318.6 237.2,319.3 237.8,320.2 238.9,321.4 239.6,321.9 241.0,323.3 241.7,325.4 242.4,326.9 243.3,326.5 244.2,327.5 245.2,328.3 246.1,329.2 247.1,332.6 248.1,333.7 249.0,334.1 249.9,335.0 250.7,334.8 251.9,335.5 253.0,336.0 254.0,336.4 255.0,336.9 256.0,337.3 257.1,338.3 258.1,339.0 259.2,338.9 260.4,339.7 261.5,341.4 262.7,341.6 263.8,342.3 265.0,344.8 266.1,345.4 267.2,345.8 268.3,346.1 269.4,345.3 270.6,345.3 271.8,344.8 273.2,345.0 274.2,347.0 275.3,347.8 276.5,346.4 277.7,346.4 278.9,346.9 280.1,347.2 281.4,346.6 282.6,346.8 283.8,348.2 285.0,348.6 286.2,349.3 287.3,349.7 288.4,350.2 289.6,350.6 290.7,350.2 291.8,350.5 293.0,351.7 294.1,352.2 295.4,351.2 296.6,351.3 297.8,352.2 299.0,352.5 300.2,352.3 301.4,352.4 302.7,353.4 304.0,353.6 305.2,352.8 306.5,352.8 307.8,352.9 309.1,353.0 310.3,353.9 311.5,354.1 312.8,354.1 314.0,354.2 315.2,355.2 316.5,355.5 317.7,355.4 319.0,355.5 320.2,356.2 321.4,356.4 322.7,356.3 323.9,356.4 325.2,356.7 326.5,356.8 327.8,357.4 329.1,357.5 330.5,356.3 331.8,356.3 333.1,356.3 334.3,356.4 335.5,358.2 336.6,358.6 337.6,357.0 339.1,356.7 340.3,358.2 341.3,358.6 342.4,358.7 343.5,358.9 345.0,358.5 346.1,358.8 347.2,358.7 348.5,358.6 349.8,358.5 351.1,358.3 352.5,358.1 353.9,358.0 355.3,357.8 356.7,357.6 358.0,357.5 359.3,357.4 360.6,357.3 361.9,357.2 363.2,357.1 364.5,357.0 365.8,356.9 367.1,356.8 368.4,356.7 369.7,356.6 371.0,356.5 372.3,356.4 373.6,356.2 374.9,356.1 376.2,356.0 377.5,355.8 378.8,355.7 380.1,355.5 381.4,355.3 382.7,355.2 384.0,355.0 385.3,354.8 386.6,354.6 387.9,354.4 389.2,354.2 390.5,354.0 391.8,353.8 393.1,353.6 394.4,353.4 395.7,353.2 397.0,353.0 398.3,352.8 399.6,352.6 400.9,352.4 402.1,352.2 403.4,352.1 404.7,351.9 406.0,351.7 407.3,351.5 408.6,351.4 410.0,351.2 411.2,351.1 412.5,350.9 413.8,350.7 415.1,350.5 416.5,350.4 417.8,350.2 419.2,350.0 420.4,349.9 421.6,349.8 422.7,349.8 423.7,349.8 424.5,349.8 426.5,350.7 427.2,352.0 428.0,352.9 429.1,352.9 430.2,352.3 431.7,351.4 432.5,350.9 433.5,350.2 434.5,349.5 435.6,348.8 436.7,348.0 437.8,347.2 438.9,346.4 439.9,345.6 441.0,344.9 442.0,344.1 443.0,343.3 444.0,342.5 445.1,341.7 446.1,340.9 447.1,340.1 448.2,339.3 449.2,338.4 450.3,337.6 451.3,336.9 452.4,336.1 453.4,335.5 454.6,334.8 455.8,334.3 457.0,333.7 458.2,333.3 459.4,332.9 460.6,332.6 461.8,332.4 463.0,332.2 464.2,332.2 465.4,332.2 466.6,332.2 467.8,332.2 469.0,332.3 470.3,332.4 471.5,332.5 472.8,332.7 473.9,332.8 475.0,332.9 476.0,333.0 476.5,333.1 477.5,333.2 480.0,333.2 480.8,333.2 481.7,333.2 482.6,333.2 483.7,333.2 484.8,333.2 486.0,333.1 487.2,333.1 488.5,333.1 489.8,333.1 491.1,333.1 492.5,333.0 493.9,333.0 495.3,333.0 496.6,333.0 498.0,332.9 499.3,332.9 500.7,332.9 502.0,332.8 503.2,332.8 504.4,332.8 505.6,332.7 506.9,332.7 508.1,332.7 509.3,332.6 510.5,332.6 511.7,332.6 513.0,332.5 514.2,332.5 515.4,332.5 516.6,332.4 517.8,332.4 519.1,332.3 520.3,332.3 521.5,332.2 522.7,332.2 524.0,332.1 525.2,332.1 526.4,332.0 527.6,331.9 528.8,331.8 530.1,331.8 531.3,331.7 532.5,331.6 533.8,331.5 535.0,331.4 536.2,331.3 537.4,331.2 538.7,331.1 539.9,331.0 541.1,330.9 542.3,330.8 543.6,330.6 544.8,330.6 546.0,330.5 547.3,330.4 548.5,330.3 549.7,330.2 550.9,330.1 552.1,330.1 553.3,330.0 554.5,329.9 555.7,329.8 556.9,329.8 558.1,329.7 559.3,329.7 560.5,329.6 561.8,329.5 563.0,329.5 564.2,329.4 565.4,329.4 566.6,329.3 567.9,329.3 569.1,329.2 570.4,329.2 571.6,329.1 572.9,329.1 574.1,329.1 575.3,329.0 576.5,329.0 577.7,329.0 579.0,328.9 580.3,328.9 581.5,328.9 582.8,328.8 584.1,328.8 585.4,328.8 586.7,328.7 588.0,328.7 589.2,328.7 590.5,328.7 591.7,328.7 592.9,328.6 594.1,328.6 595.3,328.6 596.4,328.6 597.5,328.6 598.6,328.6 600.0,328.6 601.4,328.6 602.8,328.6 604.0,328.6 605.3,328.7 606.5,328.7 607.7,328.7 608.9,328.7 610.0,328.8 611.2,328.8 612.3,328.9 613.5,328.9 614.7,329.0 615.9,329.0 617.1,329.1 618.3,329.2 619.6,329.2 620.8,329.3 622.1,329.4 623.3,329.5 624.5,329.6 625.8,329.6 627.0,329.7 628.3,329.8 629.5,329.9 630.7,330.0 632.0,330.1 633.2,330.3 634.5,330.4 635.7,330.5 636.9,330.6 638.2,330.8 639.4,330.9 640.7,331.0 641.9,331.2 643.1,331.3 644.4,331.5 645.6,331.6 646.9,331.8 648.1,332.0 649.3,332.1 650.6,332.3 651.8,332.5 653.1,332.6 654.3,332.8 655.5,333.0 656.8,333.1 658.0,333.3 659.3,333.5 660.5,333.7 661.7,333.9 663.0,334.1 664.2,334.3 665.5,334.5 666.7,334.7 667.9,334.9 669.2,335.0 670.4,335.2 671.7,335.4 672.9,335.6 674.2,335.8 675.4,336.0 676.8,336.2 678.1,336.4 679.4,336.6 680.8,336.7 682.1,336.9 683.4,337.1 684.7,337.3 686.0,337.5 687.2,337.6 688.3,337.8 689.4,338.0 690.5,338.1 691.4,338.2 693.0,338.4 694.1,338.5 694.9,338.5 695.7,338.5 696.6,338.5 698.0,338.7 700.0,338.9 700.8,339.0 701.7,339.1 702.7,339.3 703.7,339.4 704.8,339.6 705.9,339.7 707.1,339.9 708.3,340.1 709.6,340.2 710.8,340.4 712.1,340.6 713.4,340.8 714.7,341.0 716.1,341.2 717.4,341.4 718.7,341.6 720.0,341.8 721.3,342.0 722.6,342.1 723.8,342.3 725.0,342.5 726.2,342.7 727.4,342.9 728.6,343.0 729.8,343.2 731.0,343.4 732.1,343.6 733.3,343.8 734.5,344.0 735.7,344.2 736.9,344.4 738.1,344.5 739.3,344.7 740.5,344.9 741.7,345.1 742.9,345.3 744.0,345.4 745.2,345.6 746.4,345.8 747.6,345.9 748.8,346.1 750.0,346.2 751.2,346.3 752.5,346.5 753.7,346.6 755.0,346.7 756.2,346.8 757.5,347.0 758.8,347.1 760.0,347.2 761.3,347.3 762.5,347.4 763.8,347.5 765.0,347.5 766.2,347.6 767.5,347.7 768.8,347.8 770.0,347.9 771.2,348.0 772.5,348.1 773.8,348.2 775.0,348.3 776.2,348.4 777.5,348.5 778.8,348.6 780.0,348.7 781.2,348.8 782.5,348.9 783.8,349.0 785.0,349.2 786.3,349.3 787.5,349.4 788.8,349.5 790.0,349.6 791.2,349.7 792.5,349.8 793.8,349.9 795.0,350.0 796.2,350.0 797.5,350.1 798.8,350.2 800.0,350.3 801.2,350.4 802.5,350.5 803.8,350.5 805.0,350.6 806.2,350.7 807.5,350.7 808.8,350.8 810.0,350.8 811.3,350.9 812.5,351.0 813.8,351.0 815.0,351.1 816.2,351.1 817.5,351.2 818.8,351.2 820.0,351.3 821.2,351.3 822.5,351.3 823.8,351.4 825.0,351.4 826.2,351.4 827.5,351.5 828.7,351.5 829.8,351.5 831.0,351.5 832.2,351.5 833.4,351.6 834.5,351.6 835.7,351.6 836.9,351.6 838.1,351.6 839.3,351.6 840.5,351.6 841.8,351.6 843.0,351.6 844.4,351.6 845.7,351.6 847.1,351.6 848.5,351.6 850.0,351.6 851.0,351.6 852.1,351.6 853.2,351.6 854.3,351.6 855.4,351.6 856.6,351.6 857.8,351.6 858.9,351.6 860.1,351.6 861.3,351.6 862.5,351.6 863.8,351.6 865.0,351.6 866.3,351.6 867.5,351.5 868.8,351.5 870.0,351.5 871.3,351.5 872.5,351.5 873.8,351.5 875.1,351.5 876.3,351.4 877.6,351.4 878.8,351.4 880.1,351.4 881.3,351.3 882.6,351.3 883.8,351.2 885.0,351.2 886.2,351.2 887.4,351.1 888.6,351.0 889.9,351.0 891.1,350.9 892.3,350.9 893.6,350.8 894.8,350.7 896.0,350.7 897.3,350.6 898.5,350.5 899.7,350.4 901.0,350.3 902.2,350.3 903.4,350.2 904.7,350.1 905.9,350.0 907.1,349.9 908.3,349.8 909.5,349.7 910.7,349.7 911.9,349.6 913.1,349.5 914.3,349.4 915.4,349.3 916.6,349.2 917.7,349.2 918.9,349.1 920.0,349.0 921.3,348.9 922.6,348.8 923.8,348.7 925.1,348.7 926.3,348.6 927.5,348.5 928.8,348.4 930.0,348.3 931.2,348.2 932.4,348.1 933.5,348.0 934.7,348.0 935.9,347.9 937.1,347.8 938.2,347.7 939.4,347.6 940.6,347.5 941.7,347.4 942.9,347.3 944.1,347.3 945.3,347.2 946.4,347.1 947.6,347.0 948.8,346.9 950.0,346.8 951.2,346.7 952.4,346.6 953.7,346.5 954.9,346.4 956.2,346.3 957.4,346.2 958.7,346.1 959.9,346.0 961.2,345.9 962.5,345.8 963.7,345.7 965.0,345.6 966.2,345.5 967.5,345.4 968.7,345.3 969.9,345.2 971.1,345.1 972.3,345.0 973.5,344.9 974.6,344.9 975.8,344.8 976.9,344.7 977.9,344.6 979.0,344.5 980.0,344.4 981.5,344.3 982.9,344.1 984.2,344.0 985.5,343.9 986.7,343.8 987.8,343.7 988.9,343.6 990.0,343.4 991.1,343.3 992.2,343.2 993.3,343.1 994.5,343.0 995.8,342.9 997.1,342.7 998.5,342.6 1000.0,342.5 1001.0,342.4 1002.1,342.3 1003.1,342.3 1004.2,342.2 1005.4,342.1 1006.5,342.0 1007.7,341.9 1008.9,341.8 1010.1,341.7 1011.3,341.7 1012.5,341.6 1013.8,341.5 1015.0,341.4 1016.3,341.3 1017.5,341.2 1018.8,341.1 1020.1,341.0 1021.3,340.9 1022.6,340.9 1023.8,340.8 1025.1,340.7 1026.3,340.6 1027.6,340.5 1028.8,340.4 1030.0,340.3 1031.2,340.2 1032.4,340.1 1033.6,340.0 1034.8,339.9 1036.0,339.8 1037.2,339.7 1038.4,339.6 1039.6,339.5 1040.8,339.4 1042.0,339.3 1043.2,339.2 1044.4,339.1 1045.6,339.0 1046.8,338.9 1048.0,338.8 1049.2,338.7 1050.4,338.6 1051.6,338.5 1052.8,338.4 1054.0,338.3 1055.2,338.2 1056.4,338.1 1057.6,338.0 1058.8,337.9 1060.0,337.8 1061.2,337.7 1062.4,337.6 1063.6,337.5 1064.8,337.4 1066.0,337.3 1067.2,337.2 1068.4,337.2 1069.6,337.1 1070.8,337.0 1072.0,336.9 1073.2,336.8 1074.4,336.7 1075.6,336.6 1076.8,336.5 1078.0,336.5 1079.2,336.4 1080.4,336.3 1081.6,336.2 1082.8,336.1 1084.0,336.0 1085.2,335.9 1086.4,335.9 1087.6,335.8 1088.8,335.7 1090.0,335.6 1091.2,335.5 1092.4,335.4 1093.6,335.4 1094.8,335.3 1096.0,335.2 1097.2,335.1 1098.4,335.0 1099.6,334.9 1100.8,334.9 1102.0,334.8 1103.2,334.7 1104.4,334.6 1105.6,334.5 1106.8,334.5 1108.0,334.4 1109.2,334.3 1110.4,334.2 1111.6,334.2 1112.8,334.1 1114.0,334.0 1115.2,333.9 1116.4,333.8 1117.6,333.8 1118.8,333.7 1120.0,333.6 1121.2,333.5 1122.4,333.4 1123.6,333.4 1124.8,333.3 1126.0,333.2 1127.2,333.1 1128.4,333.0 1129.6,332.9 1130.8,332.9 1132.0,332.8 1133.2,332.7 1134.4,332.6 1135.6,332.5 1136.8,332.5 1138.0,332.4 1139.2,332.3 1140.4,332.2 1141.6,332.1 1142.8,332.1 1144.0,332.0 1145.2,331.9 1146.4,331.8 1147.6,331.7 1148.8,331.7 1150.0,331.6 1151.2,331.5 1152.4,331.5 1153.6,331.4 1154.8,331.3 1156.0,331.3 1157.2,331.2 1158.4,331.1 1159.6,331.1 1160.8,331.0 1162.0,330.9 1163.2,330.9 1164.4,330.8 1165.6,330.7 1166.8,330.7 1168.0,330.6 1169.2,330.5 1170.4,330.5 1171.6,330.4 1172.8,330.4 1174.0,330.3 1175.2,330.2 1176.4,330.2 1177.6,330.1 1178.8,330.1 1180.0,330.0 1181.2,329.9 1182.5,329.9 1183.7,329.8 1185.0,329.8 1186.3,329.7 1187.6,329.6 1189.0,329.6 1190.3,329.5 1191.7,329.4 1193.0,329.4 1194.3,329.3 1195.6,329.3 1196.9,329.2 1198.2,329.1 1199.5,329.1 1200.7,329.0 1201.9,329.0 1203.1,328.9 1204.2,328.9 1205.3,328.8 1206.4,328.8 1207.4,328.7 1208.3,328.7 1209.2,328.6 1210.0,328.6 1212.5,328.5 1214.5,328.4 1216.0,328.3 1217.2,328.2 1218.1,328.1 1218.8,328.0 1219.5,328.0"/>
<polyline stroke="#C55A11" stroke-width="8.2" points="208.3,263.9 208.7,265.2 209.2,265.1 209.6,266.2 210.1,268.0 210.4,269.3 210.7,269.7 210.9,270.7 211.1,272.4 211.3,273.6 211.4,274.0 211.6,275.1 211.8,276.9 212.0,278.2 212.3,278.7 212.5,279.9 212.8,283.1 213.1,284.5 213.4,285.2 213.7,286.4 214.0,286.6 214.3,287.6 214.7,289.9 215.0,292.7 215.3,291.6 215.7,294.9 216.0,296.2 216.4,296.3 217.1,297.3 217.9,298.2 219.0,299.5 219.7,301.1 220.5,302.3 221.3,302.1 222.2,303.2 223.2,304.7 224.1,306.4 225.0,308.3 225.9,307.5 226.8,308.5 227.7,310.9 228.6,311.9 229.6,312.6 230.5,313.6 231.4,314.4 232.2,315.3 233.1,315.7 233.9,316.7 234.8,317.5 235.6,318.5 236.4,318.6 237.2,319.3 237.8,320.2 238.9,321.4 239.6,321.9 241.0,323.3 241.7,325.4 242.4,326.9 243.3,326.5 244.2,327.5 245.2,328.3 246.1,329.2 247.1,332.6 248.1,333.7 249.0,334.1 249.9,335.0 250.7,334.8 251.9,335.5 253.0,336.0 254.0,336.4 255.0,336.9 256.0,337.3 257.1,338.3 258.1,339.0 259.2,338.9 260.4,339.7 261.5,341.4 262.7,341.6 263.8,342.3 265.0,344.8 266.1,345.4 267.2,345.8 268.3,346.1 269.4,345.3 270.6,345.3 271.8,344.8 273.2,345.0 274.2,347.0 275.3,347.8 276.5,346.4 277.7,346.4 278.9,346.9 280.1,347.2 281.4,346.6 282.6,346.8 283.8,348.2 285.0,348.6 286.2,349.3 287.3,349.7 288.4,350.2 289.6,350.6 290.7,350.2 291.8,350.5 293.0,351.7 294.1,352.2 295.4,351.2 296.6,351.3 297.8,352.2 299.0,352.5 300.2,352.3 301.4,352.4 302.7,353.4 304.0,353.6 305.2,352.8 306.5,352.8 307.8,352.9 309.1,353.0 310.3,353.9 311.5,354.1 312.8,354.1 314.0,354.2 315.2,355.2 316.5,355.5 317.7,355.4 319.0,355.5 320.2,356.2 321.4,356.4 322.7,356.3 323.9,356.4 325.2,356.7 326.5,356.8 327.8,357.4 329.1,357.5 330.5,356.3 331.8,356.3 333.1,356.3 334.3,356.4 335.5,358.2 336.6,358.6 337.6,357.0 339.1,356.7 340.3,358.2"/>
<polyline stroke="#0070C0" points="188.6,48.5 188.6,49.7 188.7,51.1 188.7,51.5 188.7,52.3 188.8,53.6 188.8,54.9 188.9,56.3 188.9,57.6 189.0,57.0 189.0,58.4 189.1,60.9 189.1,62.3 189.2,64.7 189.2,66.0 189.3,67.5 189.4,68.2 189.5,69.5 189.5,71.7 189.6,73.0 189.7,73.6 189.8,74.9 189.9,76.2 190.0,77.5 190.1,77.5 190.3,78.5 190.4,79.2 190.5,80.3 190.7,81.8 190.8,83.0 191.0,84.8 191.1,86.1 191.3,86.6 191.4,87.7 191.5,90.9 191.7,92.4 191.8,92.9 192.0,94.2 192.1,95.5 192.3,96.7 192.4,97.8 192.5,99.0 192.7,100.4 192.8,101.6 193.0,102.3 193.1,103.5 193.3,103.4 193.4,104.5 193.6,107.9 193.7,109.4 193.9,110.5 194.0,111.7 194.1,112.2 194.3,113.4 194.4,114.6 194.5,115.8 194.7,117.3 194.8,118.5 194.9,118.1 195.1,119.3 195.2,122.4 195.3,123.8 195.5,123.7 195.6,124.8 195.7,125.5 195.8,126.6 195.9,128.3 196.0,129.6 196.2,132.0 196.3,133.4 196.4,133.2 196.5,134.3 196.6,137.0 196.8,138.4 196.9,140.4 197.0,141.6 197.1,141.5 197.2,142.4 197.4,143.4 197.5,144.5 197.6,146.0 197.7,147.2 197.8,149.0 198.0,150.3 198.1,151.8 198.2,153.0 198.3,153.9 198.4,155.1 198.6,156.3 198.7,157.6 198.8,157.3 198.9,158.3 199.1,159.6 199.2,160.8 199.3,162.2 199.4,163.6 199.6,166.2 199.7,167.6 199.9,167.7 200.0,168.8 200.2,170.7 200.3,172.1 200.4,171.8 200.6,172.8 200.7,174.2 200.9,175.4 201.0,177.1 201.2,178.4 201.3,180.7 201.5,182.1 201.6,183.3 201.8,184.6 202.0,185.8 202.1,187.0 202.3,187.2 202.4,188.3 202.6,190.0 202.8,191.3 202.9,192.4 203.1,193.6 203.3,194.8 203.4,196.0 203.6,196.3 203.8,197.5 203.9,200.8 204.1,202.3 204.3,201.7 204.5,202.8 204.7,206.3 204.9,207.6 205.0,208.6 205.2,209.8 205.4,208.6 205.6,209.4 205.8,211.8 206.0,213.2 206.2,215.4 206.4,216.7 206.6,218.4 206.8,219.6 207.0,219.5 207.2,220.6 207.4,221.3 207.6,222.4 207.8,223.5 208.0,224.7 208.1,227.7 208.3,229.2 208.5,228.5 208.7,229.5 208.9,231.9 209.1,233.3 209.3,233.3 209.5,234.7 209.7,237.1 209.9,238.5 210.0,241.0 210.2,242.4 210.4,241.4 210.6,242.4 210.7,245.4 210.9,246.9 211.1,247.2 211.3,248.1 211.4,249.9 211.6,251.2 211.9,252.4 212.3,252.4 212.6,255.4 212.9,256.7 213.2,256.8 213.5,257.4 213.8,257.4 214.2,258.2 214.6,259.3 215.0,260.5 215.4,263.1 215.8,264.4 216.2,265.5 216.7,266.7 217.2,267.5 217.8,268.7 218.4,269.4 219.0,270.4 219.7,272.1 220.4,273.3 221.2,274.3 221.9,275.4 222.7,277.9 223.4,279.0 224.1,277.8 225.0,278.5 225.8,281.5 226.6,282.6 227.4,283.7 228.2,284.6 229.1,283.6 230.0,284.4 230.9,287.5 231.8,288.7 232.8,289.2 233.7,290.8 234.7,290.0 235.6,291.2 236.4,292.2 237.1,293.1 238.0,294.3 238.4,296.4 238.9,297.9 240.0,298.1 240.6,298.3 241.3,298.9 242.1,299.9 243.0,300.8 243.9,301.4 244.9,302.3 245.8,302.6 246.8,303.7 247.8,304.8 248.7,305.8 249.6,308.9 250.4,309.9 251.2,309.4 252.0,310.2 252.8,312.9 253.6,314.1 254.5,313.2 255.3,314.0 256.1,314.9 256.9,315.8 257.7,317.3 258.5,318.2 259.3,318.2 260.4,318.8 261.5,320.1 262.7,320.8 263.9,323.1 265.0,323.8 266.1,324.1 267.1,324.5 268.1,324.8 268.9,325.2 270.2,325.6 270.9,326.8 271.7,327.6 273.2,328.3 274.1,327.8 275.1,327.6 276.2,328.3 277.4,328.6 278.6,327.0 279.9,327.0 281.2,329.2 282.5,329.5 283.8,329.0 285.0,329.3 286.2,330.3 287.3,330.8 288.4,330.8 289.6,331.1 290.7,330.5 291.8,330.7 293.0,330.5 294.1,330.8 295.4,333.6 296.6,334.3 297.7,332.7 298.8,332.7 299.9,334.1 301.0,334.7 302.2,334.9 303.3,335.4 304.5,335.8 305.7,336.3 306.8,338.0 308.0,338.6 309.2,339.8 310.3,340.3 311.4,338.9 312.6,339.1 313.7,340.6 314.8,341.2 316.0,340.7 317.1,341.1 318.2,342.2 319.4,342.7 320.5,342.7 321.6,343.1 322.8,343.0 323.9,343.3 325.1,343.7 326.3,344.2 327.5,344.8 328.7,345.3 329.9,347.7 331.1,348.3 332.3,347.6 333.5,348.0 334.6,347.7 335.7,347.9 336.7,349.8 337.6,350.5 339.2,351.0 340.4,350.1 341.5,350.2 342.5,350.1 343.6,350.3 345.0,350.7 346.1,351.0 347.2,351.4 348.4,351.7 349.7,352.0 351.0,352.3 352.3,352.6 353.6,352.9 354.9,353.2 356.2,353.4 357.5,353.6 358.7,353.8 360.0,354.0 361.2,354.1 362.5,354.3 363.7,354.4 365.0,354.6 366.2,354.7 367.5,354.8 368.7,354.9 370.0,355.0 371.2,355.1 372.5,355.2 373.7,355.2 375.0,355.3 376.2,355.3 377.5,355.4 378.7,355.4 380.0,355.4 381.2,355.4 382.5,355.4 383.7,355.4 385.0,355.4 386.2,355.4 387.5,355.4 388.7,355.4 390.0,355.4 391.2,355.4 392.4,355.4 393.6,355.4 394.8,355.5 396.0,355.5 397.3,355.5 398.5,355.5 399.8,355.6 401.2,355.6 402.4,355.6 403.6,355.7 404.9,355.7 406.2,355.8 407.5,355.9 408.9,355.9 410.2,356.0 411.5,356.0 412.7,356.1 413.9,356.2 415.0,356.2 416.6,356.2 418.2,356.2 419.8,356.2 421.2,356.2 422.5,356.2 423.6,356.3 424.5,356.5 425.4,358.0 426.6,359.4 427.4,359.5 428.4,359.6 429.5,359.6 430.7,359.6 432.0,359.5 433.3,359.5 434.7,359.4 436.1,359.4 437.5,359.3 438.9,359.3 440.0,359.3 441.2,359.3 442.4,359.3 443.6,359.3 444.8,359.3 446.0,359.3 447.3,359.3 448.5,359.3 449.7,359.3 451.0,359.3 452.2,359.3 453.4,359.3 454.6,359.3 455.8,359.3 457.1,359.3 458.3,359.3 459.5,359.3 460.7,359.4 462.0,359.4 463.2,359.4 464.4,359.4 465.5,359.4 466.7,359.5 467.8,359.5 469.1,359.5 470.2,359.6 471.3,359.7 472.3,359.7 473.4,359.8 474.4,359.9 475.6,359.9 476.9,360.0 478.3,360.1 480.0,360.1 481.0,360.1 482.0,360.1 483.0,360.2 484.2,360.2 485.3,360.2 486.5,360.2 487.7,360.2 489.0,360.2 490.3,360.2 491.6,360.2 492.9,360.2 494.2,360.3 495.5,360.3 496.8,360.3 498.1,360.3 499.4,360.3 500.7,360.3 502.0,360.4 503.2,360.4 504.4,360.4 505.6,360.5 506.9,360.5 508.1,360.6 509.3,360.6 510.5,360.6 511.7,360.7 513.0,360.7 514.2,360.8 515.4,360.8 516.6,360.9 517.8,360.9 519.1,361.0 520.3,361.1 521.5,361.1 522.7,361.2 524.0,361.3 525.2,361.3 526.4,361.4 527.6,361.5 528.8,361.6 530.1,361.6 531.3,361.7 532.5,361.8 533.8,361.9 535.0,362.0 536.2,362.1 537.4,362.2 538.7,362.3 539.9,362.4 541.1,362.5 542.3,362.6 543.6,362.7 544.8,362.8 546.0,362.9 547.3,363.0 548.5,363.1 549.7,363.2 550.9,363.3 552.2,363.4 553.5,363.6 554.9,363.7 556.2,363.8 557.6,363.9 558.9,364.1 560.3,364.2 561.6,364.3 563.0,364.5 564.3,364.6 565.5,364.7 566.8,364.9 567.9,365.0 569.1,365.1 570.1,365.2 571.1,365.3 572.1,365.4 572.9,365.5 575.0,365.7 575.9,365.9 576.4,365.9 577.5,366.1 580.0,366.3 580.8,366.4 581.7,366.4 582.6,366.5 583.6,366.6 584.7,366.7 585.8,366.8 587.0,366.9 588.2,367.0 589.4,367.1 590.7,367.2 592.0,367.3 593.3,367.4 594.7,367.5 596.0,367.6 597.4,367.7 598.7,367.8 600.1,367.9 601.5,368.0 602.8,368.1 604.1,368.2 605.4,368.4 606.7,368.5 607.9,368.6 609.1,368.7 610.3,368.8 611.5,369.0 612.7,369.1 613.9,369.2 615.2,369.3 616.4,369.4 617.6,369.6 618.8,369.7 620.0,369.8 621.2,370.0 622.4,370.1 623.6,370.2 624.8,370.4 626.0,370.5 627.2,370.6 628.4,370.8 629.7,370.9 630.9,371.1 632.1,371.2 633.3,371.4 634.5,371.5 635.7,371.7 636.9,371.9 638.1,372.0 639.3,372.2 640.5,372.4 641.8,372.6 643.0,372.7 644.2,372.9 645.4,373.1 646.6,373.3 647.8,373.5 649.0,373.7 650.3,373.9 651.5,374.1 652.7,374.3 653.9,374.5 655.1,374.7 656.3,374.9 657.5,375.1 658.8,375.3 660.0,375.4 661.2,375.6 662.4,375.8 663.6,376.0 664.8,376.2 666.1,376.4 667.4,376.6 668.7,376.8 670.0,376.9 671.3,377.1 672.7,377.3 674.0,377.5 675.4,377.7 676.7,377.9 678.0,378.1 679.4,378.3 680.7,378.5 681.9,378.7 683.2,378.9 684.4,379.0 685.5,379.2 686.6,379.3 687.7,379.5 688.7,379.6 689.7,379.8 690.6,379.9 691.4,380.0 693.5,380.3 694.8,380.4 695.6,380.5 696.2,380.5 696.9,380.5 698.1,380.6 700.0,380.8 700.9,380.9 701.8,381.0 702.9,381.1 704.0,381.2 705.1,381.3 706.3,381.4 707.5,381.5 708.8,381.7 710.1,381.8 711.5,381.9 712.8,382.1 714.2,382.2 715.6,382.3 717.0,382.5 718.4,382.6 719.7,382.7 721.1,382.8 722.4,383.0 723.7,383.1 725.0,383.2 726.2,383.3 727.5,383.4 728.8,383.5 730.0,383.7 731.2,383.8 732.5,383.9 733.8,384.0 735.0,384.1 736.3,384.2 737.5,384.3 738.8,384.4 740.0,384.5 741.2,384.7 742.5,384.8 743.8,384.9 745.0,384.9 746.2,385.0 747.5,385.1 748.8,385.2 750.0,385.3 751.2,385.4 752.5,385.5 753.7,385.5 755.0,385.6 756.2,385.7 757.5,385.7 758.8,385.8 760.0,385.8 761.3,385.9 762.5,385.9 763.8,386.0 765.0,386.0 766.2,386.1 767.5,386.1 768.8,386.2 770.0,386.2 771.2,386.3 772.5,386.3 773.8,386.4 775.0,386.4 776.3,386.5 777.5,386.5 778.8,386.6 780.1,386.6 781.4,386.7 782.7,386.7 783.9,386.8 785.2,386.8 786.5,386.9 787.8,386.9 789.1,387.0 790.4,387.0 791.6,387.0 792.9,387.1 794.1,387.1 795.3,387.2 796.5,387.2 797.7,387.2 798.9,387.3 800.0,387.3 801.4,387.3 802.7,387.4 803.9,387.4 805.1,387.4 806.3,387.5 807.4,387.5 808.6,387.5 809.7,387.5 810.8,387.5 812.0,387.6 813.2,387.6 814.4,387.6 815.7,387.6 817.1,387.5 818.5,387.5 820.0,387.5 821.0,387.5 822.0,387.5 823.1,387.4 824.2,387.4 825.3,387.4 826.4,387.3 827.5,387.3 828.7,387.3 829.9,387.2 831.0,387.2 832.2,387.1 833.5,387.1 834.7,387.1 835.9,387.0 837.2,386.9 838.4,386.9 839.7,386.8 841.0,386.8 842.2,386.7 843.5,386.7 844.8,386.6 846.1,386.5 847.4,386.4 848.7,386.4 850.0,386.3 851.1,386.2 852.3,386.2 853.4,386.1 854.6,386.0 855.7,386.0 856.9,385.9 858.1,385.8 859.3,385.7 860.5,385.7 861.7,385.6 862.9,385.5 864.1,385.4 865.3,385.4 866.6,385.3 867.8,385.2 869.0,385.1 870.3,385.0 871.5,384.9 872.7,384.8 874.0,384.7 875.2,384.6 876.4,384.5 877.7,384.4 878.9,384.3 880.1,384.2 881.4,384.1 882.6,384.0 883.8,383.8 885.0,383.7 886.2,383.6 887.4,383.4 888.6,383.3 889.9,383.1 891.1,383.0 892.3,382.8 893.6,382.7 894.8,382.5 896.0,382.4 897.3,382.2 898.5,382.0 899.7,381.9 901.0,381.7 902.2,381.5 903.4,381.3 904.7,381.2 905.9,381.0 907.1,380.8 908.3,380.6 909.5,380.4 910.7,380.2 911.9,380.1 913.1,379.9 914.3,379.7 915.4,379.5 916.6,379.3 917.7,379.2 918.9,379.0 920.0,378.8 921.3,378.6 922.6,378.4 923.8,378.2 925.1,378.0 926.3,377.8 927.5,377.5 928.8,377.3 930.0,377.1 931.2,376.9 932.4,376.7 933.5,376.5 934.7,376.3 935.9,376.0 937.1,375.8 938.2,375.6 939.4,375.4 940.6,375.2 941.7,375.0 942.9,374.8 944.1,374.5 945.3,374.3 946.4,374.1 947.6,373.9 948.8,373.7 950.0,373.5 951.2,373.3 952.4,373.1 953.7,372.9 954.9,372.7 956.2,372.5 957.4,372.3 958.7,372.0 959.9,371.8 961.2,371.6 962.5,371.4 963.7,371.2 965.0,371.0 966.2,370.8 967.5,370.6 968.7,370.4 969.9,370.2 971.1,370.0 972.3,369.8 973.5,369.6 974.6,369.5 975.8,369.3 976.9,369.1 977.9,368.9 979.0,368.8 980.0,368.6 981.5,368.4 982.9,368.1 984.2,367.9 985.5,367.7 986.7,367.6 987.8,367.4 988.9,367.2 990.0,367.1 991.1,366.9 992.2,366.7 993.3,366.5 994.5,366.4 995.8,366.2 997.1,366.0 998.5,365.7 1000.0,365.5 1001.0,365.3 1002.1,365.2 1003.1,365.0 1004.2,364.8 1005.4,364.6 1006.5,364.4 1007.7,364.2 1008.9,364.0 1010.1,363.8 1011.3,363.6 1012.5,363.4 1013.8,363.2 1015.0,363.0 1016.3,362.8 1017.5,362.6 1018.8,362.3 1020.1,362.1 1021.3,361.9 1022.6,361.7 1023.8,361.5 1025.1,361.3 1026.3,361.1 1027.6,360.9 1028.8,360.7 1030.0,360.5 1031.2,360.3 1032.4,360.1 1033.6,359.9 1034.8,359.7 1036.0,359.6 1037.2,359.4 1038.4,359.2 1039.6,359.0 1040.8,358.8 1042.0,358.6 1043.2,358.5 1044.4,358.3 1045.6,358.1 1046.8,357.9 1048.0,357.7 1049.2,357.6 1050.4,357.4 1051.6,357.2 1052.8,357.0 1054.0,356.9 1055.2,356.7 1056.4,356.5 1057.6,356.3 1058.8,356.2 1060.0,356.0 1061.2,355.8 1062.4,355.7 1063.6,355.5 1064.8,355.3 1066.0,355.2 1067.2,355.0 1068.4,354.8 1069.6,354.7 1070.8,354.5 1072.0,354.4 1073.2,354.2 1074.4,354.0 1075.6,353.9 1076.8,353.7 1078.0,353.6 1079.2,353.4 1080.4,353.2 1081.6,353.1 1082.8,352.9 1084.0,352.8 1085.2,352.6 1086.4,352.5 1087.6,352.3 1088.8,352.2 1090.0,352.0 1091.2,351.8 1092.4,351.7 1093.6,351.5 1094.8,351.4 1096.0,351.2 1097.2,351.1 1098.4,350.9 1099.6,350.7 1100.8,350.6 1102.0,350.4 1103.2,350.3 1104.4,350.1 1105.6,350.0 1106.8,349.8 1108.0,349.7 1109.2,349.5 1110.4,349.3 1111.6,349.2 1112.8,349.1 1114.0,348.9 1115.2,348.8 1116.4,348.6 1117.6,348.5 1118.8,348.3 1120.0,348.2 1121.2,348.1 1122.4,347.9 1123.6,347.8 1124.8,347.7 1126.0,347.6 1127.2,347.4 1128.4,347.3 1129.6,347.2 1130.8,347.1 1132.0,347.0 1133.2,346.8 1134.4,346.7 1135.6,346.6 1136.8,346.5 1138.0,346.4 1139.2,346.3 1140.4,346.1 1141.6,346.0 1142.8,345.9 1144.0,345.8 1145.2,345.7 1146.4,345.6 1147.6,345.4 1148.8,345.3 1150.0,345.2 1151.2,345.1 1152.4,344.9 1153.6,344.8 1154.8,344.7 1156.0,344.6 1157.2,344.4 1158.4,344.3 1159.6,344.2 1160.8,344.0 1162.0,343.9 1163.2,343.8 1164.4,343.6 1165.6,343.5 1166.8,343.4 1168.0,343.2 1169.2,343.1 1170.4,343.0 1171.6,342.9 1172.8,342.7 1174.0,342.6 1175.2,342.5 1176.4,342.4 1177.6,342.2 1178.8,342.1 1180.0,342.0 1181.2,341.9 1182.5,341.8 1183.7,341.6 1185.0,341.5 1186.3,341.4 1187.6,341.3 1189.0,341.2 1190.3,341.1 1191.7,340.9 1193.0,340.8 1194.3,340.7 1195.6,340.6 1196.9,340.5 1198.2,340.4 1199.5,340.3 1200.7,340.2 1201.9,340.1 1203.1,340.0 1204.2,339.9 1205.3,339.8 1206.4,339.7 1207.4,339.6 1208.3,339.5 1209.2,339.5 1210.0,339.4 1212.5,339.2 1214.5,339.0 1216.0,338.8 1217.2,338.7 1218.1,338.6 1218.8,338.6 1219.5,338.5"/>
<polyline stroke="#0070C0" stroke-width="8.2" points="215.4,263.1 215.8,264.4 216.2,265.5 216.7,266.7 217.2,267.5 217.8,268.7 218.4,269.4 219.0,270.4 219.7,272.1 220.4,273.3 221.2,274.3 221.9,275.4 222.7,277.9 223.4,279.0 224.1,277.8 225.0,278.5 225.8,281.5 226.6,282.6 227.4,283.7 228.2,284.6 229.1,283.6 230.0,284.4 230.9,287.5 231.8,288.7 232.8,289.2 233.7,290.8 234.7,290.0 235.6,291.2 236.4,292.2 237.1,293.1 238.0,294.3 238.4,296.4 238.9,297.9 240.0,298.1 240.6,298.3 241.3,298.9 242.1,299.9 243.0,300.8 243.9,301.4 244.9,302.3 245.8,302.6 246.8,303.7 247.8,304.8 248.7,305.8 249.6,308.9 250.4,309.9 251.2,309.4 252.0,310.2 252.8,312.9 253.6,314.1 254.5,313.2 255.3,314.0 256.1,314.9 256.9,315.8 257.7,317.3 258.5,318.2 259.3,318.2 260.4,318.8 261.5,320.1 262.7,320.8 263.9,323.1 265.0,323.8 266.1,324.1 267.1,324.5 268.1,324.8 268.9,325.2 270.2,325.6 270.9,326.8 271.7,327.6 273.2,328.3 274.1,327.8 275.1,327.6 276.2,328.3 277.4,328.6 278.6,327.0 279.9,327.0 281.2,329.2 282.5,329.5 283.8,329.0 285.0,329.3 286.2,330.3 287.3,330.8 288.4,330.8 289.6,331.1 290.7,330.5 291.8,330.7 293.0,330.5 294.1,330.8 295.4,333.6 296.6,334.3 297.7,332.7 298.8,332.7 299.9,334.1 301.0,334.7 302.2,334.9 303.3,335.4 304.5,335.8 305.7,336.3 306.8,338.0 308.0,338.6 309.2,339.8 310.3,340.3 311.4,338.9 312.6,339.1 313.7,340.6 314.8,341.2 316.0,340.7 317.1,341.1 318.2,342.2 319.4,342.7 320.5,342.7 321.6,343.1 322.8,343.0 323.9,343.3 325.1,343.7 326.3,344.2 327.5,344.8 328.7,345.3 329.9,347.7 331.1,348.3 332.3,347.6 333.5,348.0 334.6,347.7 335.7,347.9 336.7,349.8 337.6,350.5 339.2,351.0 340.4,350.1"/>
</g>
<text transform="translate(145.2,429.3) scale(0.96,1)" text-anchor="end" class="t" style="font-size:44px">0</text>
<text transform="translate(145.2,351.2) scale(0.96,1)" text-anchor="end" class="t" style="font-size:44px">5</text>
<text transform="translate(145.2,273.1) scale(0.96,1)" text-anchor="end" class="t" style="font-size:44px">10</text>
<text transform="translate(145.2,194.9) scale(0.96,1)" text-anchor="end" class="t" style="font-size:44px">15</text>
<text transform="translate(145.2,116.8) scale(0.96,1)" text-anchor="end" class="t" style="font-size:44px">20</text>
<text transform="translate(145.2,38.7) scale(0.96,1)" text-anchor="end" class="t" style="font-size:44px">25</text>
<text transform="translate(187.0,490.3) scale(0.95,1)" text-anchor="middle" class="t" style="font-size:44.5px">200</text>
<text transform="translate(316.0,490.3) scale(0.95,1)" text-anchor="middle" class="t" style="font-size:44.5px">300</text>
<text transform="translate(445.0,490.3) scale(0.95,1)" text-anchor="middle" class="t" style="font-size:44.5px">400</text>
<text transform="translate(574.0,490.3) scale(0.95,1)" text-anchor="middle" class="t" style="font-size:44.5px">500</text>
<text transform="translate(703.0,490.3) scale(0.95,1)" text-anchor="middle" class="t" style="font-size:44.5px">600</text>
<text transform="translate(832.0,490.3) scale(0.95,1)" text-anchor="middle" class="t" style="font-size:44.5px">700</text>
<text transform="translate(961.0,490.3) scale(0.95,1)" text-anchor="middle" class="t" style="font-size:44.5px">800</text>
<text transform="translate(1090.0,490.3) scale(0.95,1)" text-anchor="middle" class="t" style="font-size:44.5px">900</text>
<text transform="translate(1219.0,490.3) scale(0.95,1)" text-anchor="middle" class="t" style="font-size:44.5px">1000</text>
<text transform="translate(711.2,553.3)" text-anchor="middle" class="b">Wavelength, nm</text>
<text transform="translate(55.2,249) rotate(-90)" text-anchor="middle" class="b">Diffuse reflectance, %</text>
<line x1="383.9" y1="600" x2="471.9" y2="600" stroke="#808080" stroke-width="6.8" stroke-linecap="round"/>
<text transform="translate(477.7,612) scale(0.93,1)" class="t" style="font-size:44.5px">S1</text>
<line x1="556.7" y1="600" x2="644.7" y2="600" stroke="#000000" stroke-width="6.8" stroke-linecap="round"/>
<text transform="translate(650.5,612) scale(0.93,1)" class="t" style="font-size:44.5px">S2</text>
<line x1="730.2" y1="600" x2="818.2" y2="600" stroke="#C55A11" stroke-width="6.8" stroke-linecap="round"/>
<text transform="translate(825.4,612) scale(0.93,1)" class="t" style="font-size:44.5px">S3</text>
<line x1="904.4" y1="600" x2="992.4" y2="600" stroke="#0070C0" stroke-width="6.8" stroke-linecap="round"/>
<text transform="translate(998.2,612) scale(0.93,1)" class="t" style="font-size:44.5px">S4</text>
<rect x="1288" y="0" width="4" height="623" fill="#000"/>
<rect x="0" y="618" width="1292" height="5" fill="#000"/>
</svg>
</body></html>
